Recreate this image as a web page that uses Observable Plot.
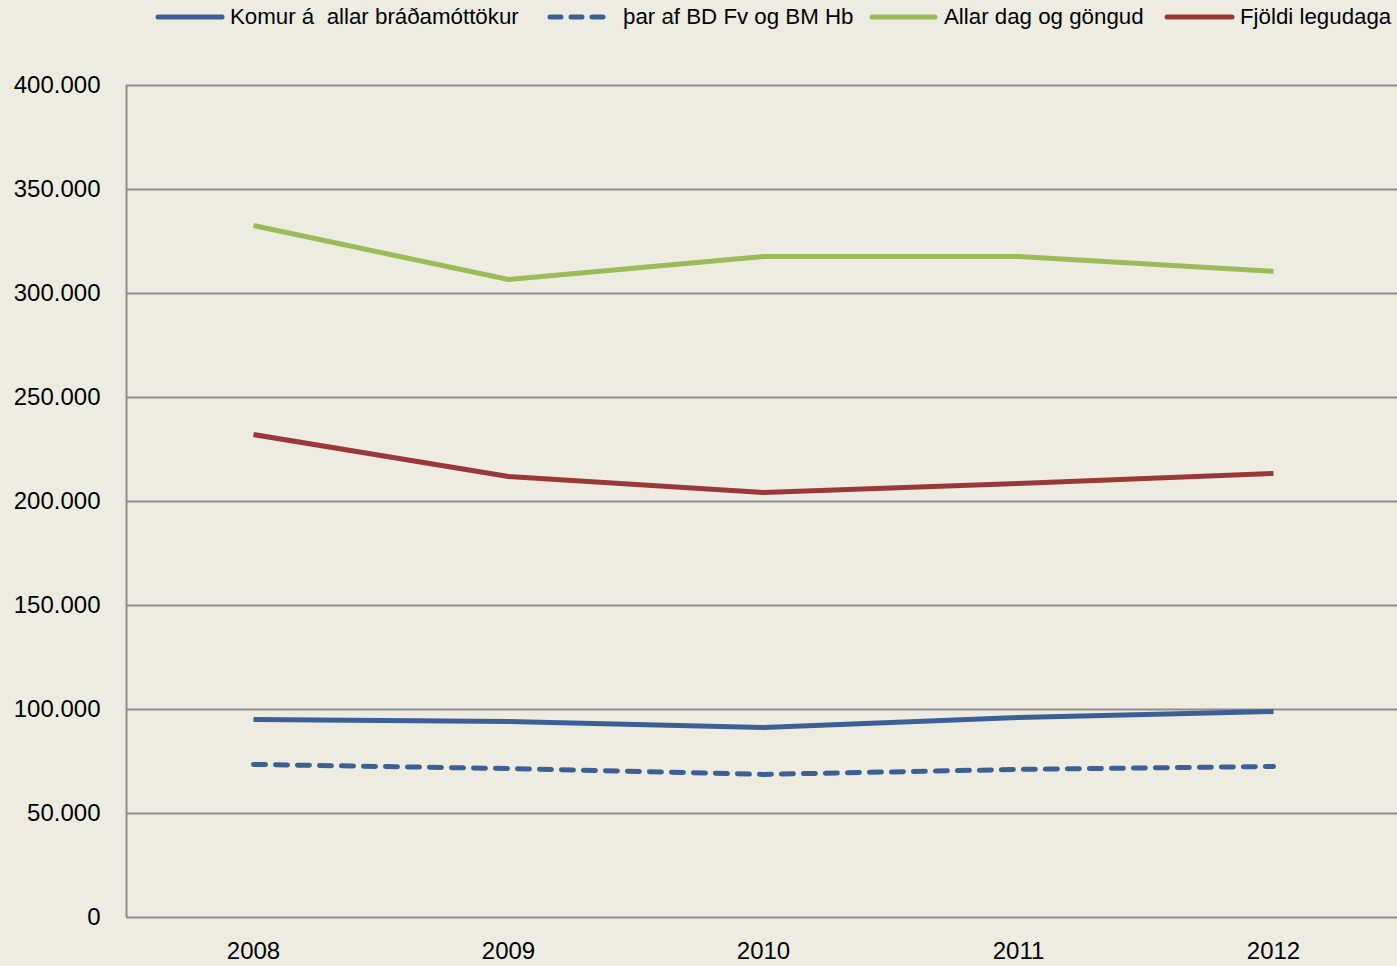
<!DOCTYPE html>
<html><head><meta charset="utf-8">
<script src="https://cdn.jsdelivr.net/npm/d3@7"></script>
<script src="https://cdn.jsdelivr.net/npm/@observablehq/plot@0.6"></script>
<style>
html,body{margin:0;padding:0;background:#EEECE1;}
#wrap{position:relative;width:1397px;height:966px;background:#EEECE1;font-family:"Liberation Sans",sans-serif;}
#legend{position:absolute;left:0;top:0;width:1397px;height:36px;}
.item{position:absolute;top:0;height:34px;display:flex;align-items:center;font-size:22.3px;color:#000;white-space:pre;}
#chart{position:absolute;left:0;top:36px;}
</style></head>
<body><div id="wrap"><div id="legend"></div><div id="chart"></div></div>
<script>
const years = ["2008","2009","2010","2011","2012"];
const komur = [95200, 94200, 91300, 96200, 99000];
const thar = [73600, 71600, 68800, 71200, 72600];
const allar = [332700, 306700, 317800, 317800, 310600];
const fjoldi = [232200, 212000, 204300, 208700, 213500];
const seriesNames = ["Komur á  allar bráðamóttökur", "þar af BD Fv og BM Hb", "Allar dag og göngud", "Fjöldi legudaga"];
const seriesValues = [komur, thar, allar, fjoldi];
const colors = ["#3B6096", "#3B6096", "#9BBB59", "#9A3835"];
const dashes = [null, "12,10", null, null];
const yTicks = [0, 50000, 100000, 150000, 200000, 250000, 300000, 350000, 400000];

const data = seriesNames.flatMap((s, i) => years.map((y, j) => ({series: s, year: y, value: seriesValues[i][j]})));
const fmt = d3.formatLocale({decimal: ",", thousands: ".", grouping: [3], currency: ["", ""]}).format(",");

const marks = [
  Plot.ruleY(yTicks.filter(d => d > 0), {stroke: "#8C8C8C", strokeWidth: 2, strokeOpacity: 1}),
  Plot.ruleY([0], {stroke: "#8C8C8C", strokeWidth: 2}),
  Plot.ruleX([years[0]], {stroke: "#8C8C8C", strokeWidth: 2, dx: -127, y1: 0, y2: 400000}),
  Plot.axisY({ticks: yTicks, tickFormat: d => fmt(d), tickSize: 0, tickPadding: 26, fontSize: 24, label: null}),
  Plot.axisX({tickSize: 0, tickPadding: 24, fontSize: 24, label: null})
];
seriesNames.forEach((s, i) => {
  marks.push(Plot.line(data.filter(d => d.series === s), {
    x: "year", y: "value", stroke: colors[i], strokeWidth: 5,
    strokeDasharray: dashes[i] || undefined, strokeLinecap: dashes[i] ? "round" : "butt"
  }));
});

const chart = Plot.plot({
  width: 1397, height: 930,
  marginLeft: 126, marginRight: 0, marginTop: 49, marginBottom: 49,
  style: {background: "#EEECE1", fontFamily: "Liberation Sans, sans-serif", color: "#000", fontSize: "24px"},
  x: {type: "point", domain: years, range: [253, 1273], padding: 0},
  y: {domain: [0, 400000]},
  marks
});
document.getElementById("chart").appendChild(chart);

// legend
const legendPos = [{sx: 155, sw: 70, tx: 230}, {sx: 547, sw: 62, tx: 623}, {sx: 869, sw: 69, tx: 944}, {sx: 1164, sw: 71, tx: 1240}];
const leg = document.getElementById("legend");
seriesNames.forEach((s, i) => {
  const p = legendPos[i];
  const sw = document.createElementNS("http://www.w3.org/2000/svg", "svg");
  sw.setAttribute("width", p.sw); sw.setAttribute("height", 10);
  sw.style.position = "absolute"; sw.style.left = p.sx + "px"; sw.style.top = "12px";
  const ln = document.createElementNS("http://www.w3.org/2000/svg", "line");
  ln.setAttribute("x1", 3); ln.setAttribute("x2", p.sw - 3); ln.setAttribute("y1", 5); ln.setAttribute("y2", 5);
  ln.setAttribute("stroke", colors[i]); ln.setAttribute("stroke-width", 5); ln.setAttribute("stroke-linecap", "round");
  if (dashes[i]) ln.setAttribute("stroke-dasharray", "11,10");
  sw.appendChild(ln); leg.appendChild(sw);
  const t = document.createElement("div");
  t.className = "item"; t.style.left = p.tx + "px"; t.textContent = s;
  leg.appendChild(t);
});
</script></body></html>
